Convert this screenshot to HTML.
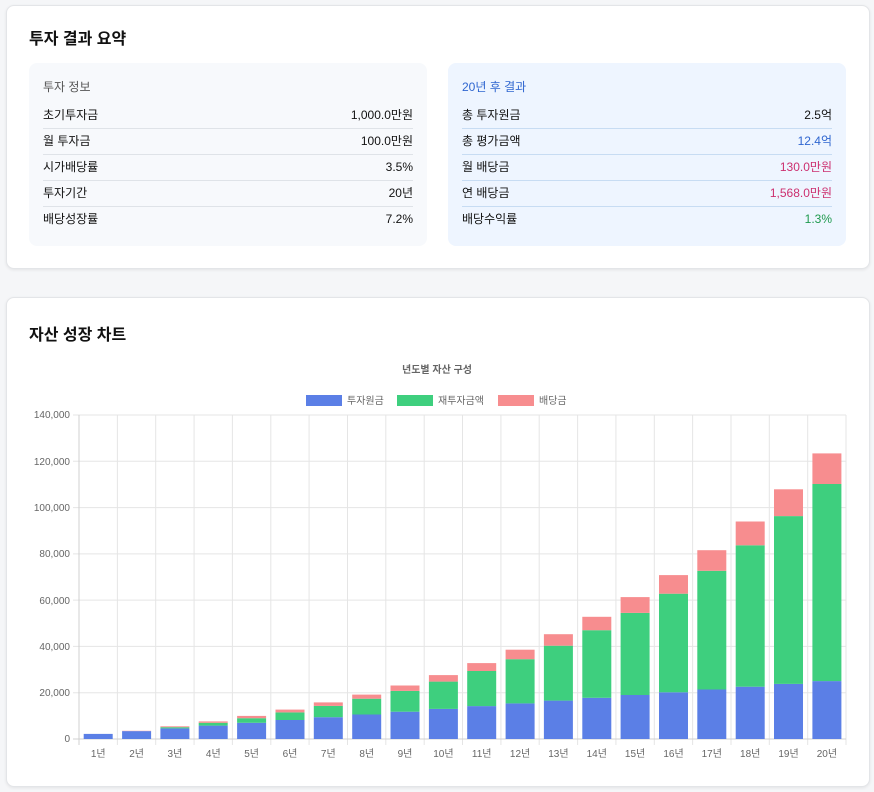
<!DOCTYPE html>
<html><head><meta charset="utf-8"><style>
body{margin:0;background:#f5f6f8;font-family:"Liberation Sans","Noto Sans CJK KR",sans-serif;width:874px;height:792px;position:relative;overflow:hidden}
.card{position:absolute;left:6px;width:862px;background:#fff;border:1px solid #e3e5e8;border-radius:8px;box-shadow:0 1px 3px rgba(0,0,0,.08)}
h2{position:absolute;left:22px;margin:0;font-size:16px;font-weight:bold;color:#111}
.box{position:absolute;top:57px;width:398px;height:183px;border-radius:8px;box-sizing:border-box;padding:0 14px}
.box .t{font-size:12px;margin-top:15px;height:25px}
.row{display:flex;justify-content:space-between;font-size:12px;color:#111;height:25px;line-height:25px;border-bottom:1px solid #dfe3e8}
.row:last-child{border-bottom:none}
.r .row{border-bottom-color:#c7dcf3}
</style></head><body>
<div class="card" style="top:5px;height:262px">
<h2 style="top:19px">투자 결과 요약</h2>
<div class="box" style="left:22px;background:#f7f9fc">
<div class="t" style="color:#555">투자 정보</div>
<div class="row"><span>초기투자금</span><span>1,000.0만원</span></div>
<div class="row"><span>월 투자금</span><span>100.0만원</span></div>
<div class="row"><span>시가배당률</span><span>3.5%</span></div>
<div class="row"><span>투자기간</span><span>20년</span></div>
<div class="row"><span>배당성장률</span><span>7.2%</span></div>
</div>
<div class="box r" style="left:441px;background:#eef5ff">
<div class="t" style="color:#2f66d0">20년 후 결과</div>
<div class="row"><span>총 투자원금</span><span>2.5억</span></div>
<div class="row"><span>총 평가금액</span><span style="color:#2f66d0">12.4억</span></div>
<div class="row"><span>월 배당금</span><span style="color:#cc2f6f">130.0만원</span></div>
<div class="row"><span>연 배당금</span><span style="color:#cc2f6f">1,568.0만원</span></div>
<div class="row"><span>배당수익률</span><span style="color:#1f9a4e">1.3%</span></div>
</div>
</div>
<div class="card" style="top:297px;height:488px">
<h2 style="top:23px">자산 성장 차트</h2>
</div>
<svg style="position:absolute;left:0;top:0" width="874" height="792" font-family="Liberation Sans, Noto Sans CJK KR, sans-serif">
<text x="437" y="373" font-size="10" font-weight="bold" fill="#666" text-anchor="middle">년도별 자산 구성</text>
<rect x="306" y="395" width="36" height="11" fill="#5b7fe6"/><text x="347" y="404" font-size="10" fill="#666">투자원금</text>
<rect x="397" y="395" width="36" height="11" fill="#3ecf7e"/><text x="438" y="404" font-size="10" fill="#666">재투자금액</text>
<rect x="498" y="395" width="36" height="11" fill="#f78d8f"/><text x="539" y="404" font-size="10" fill="#666">배당금</text>
<g stroke="#e5e5e5" stroke-width="1">
<line x1="73" x2="846" y1="415" y2="415"/><line x1="73" x2="846" y1="461.3" y2="461.3"/><line x1="73" x2="846" y1="507.6" y2="507.6"/><line x1="73" x2="846" y1="553.9" y2="553.9"/><line x1="73" x2="846" y1="600.1" y2="600.1"/><line x1="73" x2="846" y1="646.4" y2="646.4"/><line x1="73" x2="846" y1="692.7" y2="692.7"/>
<line x1="117.4" x2="117.4" y1="415" y2="745"/><line x1="155.7" x2="155.7" y1="415" y2="745"/><line x1="194.1" x2="194.1" y1="415" y2="745"/><line x1="232.4" x2="232.4" y1="415" y2="745"/><line x1="270.8" x2="270.8" y1="415" y2="745"/><line x1="309.1" x2="309.1" y1="415" y2="745"/><line x1="347.5" x2="347.5" y1="415" y2="745"/><line x1="385.8" x2="385.8" y1="415" y2="745"/><line x1="424.2" x2="424.2" y1="415" y2="745"/><line x1="462.5" x2="462.5" y1="415" y2="745"/><line x1="500.9" x2="500.9" y1="415" y2="745"/><line x1="539.2" x2="539.2" y1="415" y2="745"/><line x1="577.6" x2="577.6" y1="415" y2="745"/><line x1="615.9" x2="615.9" y1="415" y2="745"/><line x1="654.3" x2="654.3" y1="415" y2="745"/><line x1="692.6" x2="692.6" y1="415" y2="745"/><line x1="731" x2="731" y1="415" y2="745"/><line x1="769.3" x2="769.3" y1="415" y2="745"/><line x1="807.7" x2="807.7" y1="415" y2="745"/><line x1="846" x2="846" y1="415" y2="745"/>
</g>
<g stroke="#d0d0d0"><line x1="79" x2="79" y1="415" y2="745"/><line x1="73" x2="846" y1="739" y2="739"/></g>
<g font-size="10" fill="#666" text-anchor="end">
<text x="70" y="418">140,000</text><text x="70" y="465">120,000</text><text x="70" y="511">100,000</text><text x="70" y="557">80,000</text><text x="70" y="604">60,000</text><text x="70" y="650">40,000</text><text x="70" y="696">20,000</text><text x="70" y="742">0</text>
</g>
<g font-size="10" fill="#666" text-anchor="middle">
<text x="98.2" y="757">1년</text><text x="136.6" y="757">2년</text><text x="174.9" y="757">3년</text><text x="213.3" y="757">4년</text><text x="251.6" y="757">5년</text><text x="290" y="757">6년</text><text x="328.3" y="757">7년</text><text x="366.7" y="757">8년</text><text x="405" y="757">9년</text><text x="443.4" y="757">10년</text><text x="481.7" y="757">11년</text><text x="520.1" y="757">12년</text><text x="558.4" y="757">13년</text><text x="596.8" y="757">14년</text><text x="635.1" y="757">15년</text><text x="673.5" y="757">16년</text><text x="711.8" y="757">17년</text><text x="750.2" y="757">18년</text><text x="788.5" y="757">19년</text><text x="826.9" y="757">20년</text>
</g>
<g fill="#5b7fe6">
<rect x="83.7" y="733.9" width="29" height="5.1"/>
<rect x="122.1" y="731.1" width="29" height="7.9"/>
<rect x="160.4" y="728.4" width="29" height="10.6"/>
<rect x="198.7" y="725.6" width="29" height="13.4"/>
<rect x="237.1" y="722.8" width="29" height="16.2"/>
<rect x="275.5" y="720" width="29" height="19"/>
<rect x="313.8" y="717.2" width="29" height="21.8"/>
<rect x="352.2" y="714.5" width="29" height="24.5"/>
<rect x="390.5" y="711.7" width="29" height="27.3"/>
<rect x="428.9" y="708.9" width="29" height="30.1"/>
<rect x="467.2" y="706.1" width="29" height="32.9"/>
<rect x="505.6" y="703.4" width="29" height="35.6"/>
<rect x="543.9" y="700.6" width="29" height="38.4"/>
<rect x="582.3" y="697.8" width="29" height="41.2"/>
<rect x="620.6" y="695" width="29" height="44"/>
<rect x="659" y="692.3" width="29" height="46.7"/>
<rect x="697.3" y="689.5" width="29" height="49.5"/>
<rect x="735.7" y="686.7" width="29" height="52.3"/>
<rect x="774" y="683.9" width="29" height="55.1"/>
<rect x="812.4" y="681.1" width="29" height="57.9"/>
</g>
<g fill="#3ecf7e">
<rect x="160.4" y="727.2" width="29" height="1.2"/>
<rect x="198.7" y="722.8" width="29" height="2.8"/>
<rect x="237.1" y="718.2" width="29" height="4.6"/>
<rect x="275.5" y="712.4" width="29" height="7.6"/>
<rect x="313.8" y="705.9" width="29" height="11.3"/>
<rect x="352.2" y="698.7" width="29" height="15.8"/>
<rect x="390.5" y="690.9" width="29" height="20.8"/>
<rect x="428.9" y="681.6" width="29" height="27.3"/>
<rect x="467.2" y="671" width="29" height="35.1"/>
<rect x="505.6" y="659.2" width="29" height="44.2"/>
<rect x="543.9" y="645.7" width="29" height="54.9"/>
<rect x="582.3" y="630.2" width="29" height="67.6"/>
<rect x="620.6" y="612.9" width="29" height="82.1"/>
<rect x="659" y="593.7" width="29" height="98.6"/>
<rect x="697.3" y="570.8" width="29" height="118.7"/>
<rect x="735.7" y="545.3" width="29" height="141.4"/>
<rect x="774" y="516.1" width="29" height="167.8"/>
<rect x="812.4" y="484" width="29" height="197.1"/>
</g>
<g fill="#f78d8f">
<rect x="122.1" y="730.8" width="29" height="0.3"/>
<rect x="160.4" y="726.3" width="29" height="0.9"/>
<rect x="198.7" y="721.4" width="29" height="1.4"/>
<rect x="237.1" y="715.9" width="29" height="2.3"/>
<rect x="275.5" y="709.6" width="29" height="2.8"/>
<rect x="313.8" y="702.4" width="29" height="3.5"/>
<rect x="352.2" y="694.6" width="29" height="4.1"/>
<rect x="390.5" y="685.5" width="29" height="5.4"/>
<rect x="428.9" y="675.1" width="29" height="6.5"/>
<rect x="467.2" y="663.1" width="29" height="7.9"/>
<rect x="505.6" y="649.7" width="29" height="9.5"/>
<rect x="543.9" y="634.2" width="29" height="11.5"/>
<rect x="582.3" y="616.8" width="29" height="13.4"/>
<rect x="620.6" y="597.1" width="29" height="15.8"/>
<rect x="659" y="575.1" width="29" height="18.6"/>
<rect x="697.3" y="550.2" width="29" height="20.6"/>
<rect x="735.7" y="521.5" width="29" height="23.8"/>
<rect x="774" y="489.3" width="29" height="26.8"/>
<rect x="812.4" y="453.4" width="29" height="30.6"/>
</g>
</svg>
</body></html>
